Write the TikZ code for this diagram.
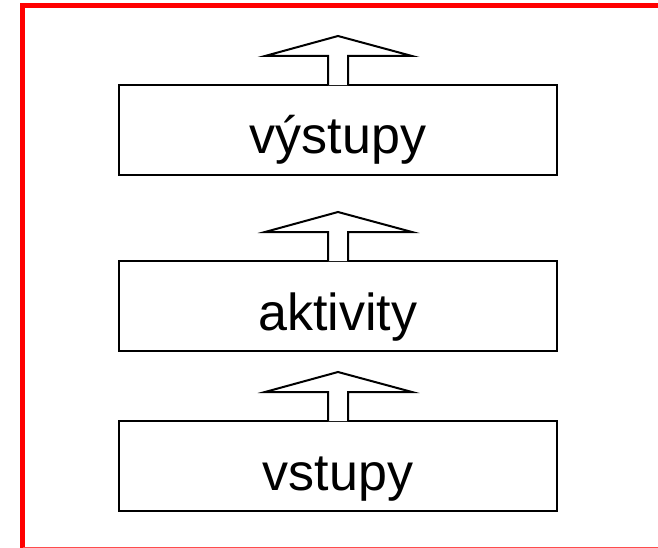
\documentclass[tikz,border=0pt]{standalone}
\usepackage{fontspec}
\setmainfont{Liberation Sans}
\usetikzlibrary{calc,positioning}

\begin{document}
\begin{tikzpicture}[x=1pt,y=-1pt,
    stage/.style={draw,line width=2pt,minimum width=438pt,minimum height=90pt,
      inner sep=0pt,text height=50pt,text depth=2pt,
      font=\fontsize{52}{52}\selectfont},
    flow/.style={draw,line width=2pt,fill=white,line join=miter}]
  \useasboundingbox (0,0) rectangle (658,548);

  % frame
  \draw[red,line width=5pt] (22.5,548) -- (22.5,5.5) -- (660,5.5);
  \draw[red!70,line width=1.5pt] (22.5,547.3) -- (660,547.3);

  % stages
  \node[stage] (out) at (338,130) {výstupy};
  \node[stage] (act) at (338,306) {aktivity};
  \node[stage] (in) at (338,466) {vstupy};

  % arrows on top of each stage
  \foreach \s in {out,act,in} {
    \path[flow] ($ (\s.north) + (-10,1.2) $) -- ++(0,-29.2) -- ++(-63,0)
      -- ++(73,-20) -- ++(74,20) -- ++(-64,0) -- ++(0,29.2);
  }
\end{tikzpicture}
\end{document}
